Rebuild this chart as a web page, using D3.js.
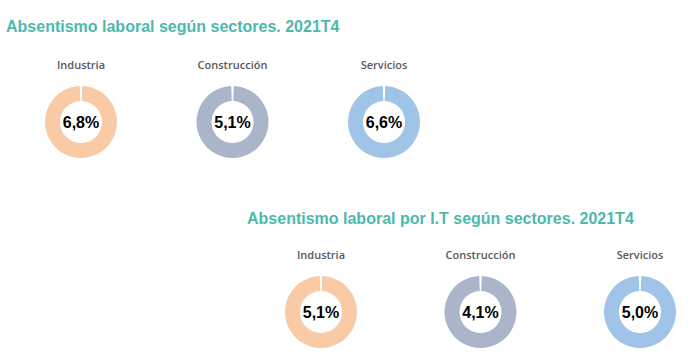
<!DOCTYPE html>
<html>
<head>
<meta charset="utf-8">
<script src="https://cdn.jsdelivr.net/npm/d3@7"></script>
<style>
  body { margin: 0; background: #fff; }
</style>
</head>
<body>
<script>
// data
const sectors = ['Industria', 'Construcción', 'Servicios']
const totalRate = [6.8, 5.1, 6.6]   // absentismo laboral, %
const itRate = [5.1, 4.1, 5.0]      // absentismo por I.T, %
const titles = ['Absentismo laboral según sectores. 2021T4', 'Absentismo laboral por I.T según sectores. 2021T4']

const sectorColors = ['#f8caa6', '#abb5c9', '#9fc4e7']
const titleColor = '#4db8ad'

const width = 700
const height = 353
const outerRadius = 36
const innerRadius = 21
const gap = 0.07   // radians of white gap at the top of each ring

const svg = d3.select('body').append('svg')
    .attr('width', width)
    .attr('height', height)

const colorScale = d3.scaleOrdinal()
    .domain(sectors)
    .range(sectorColors)

const fmt = v => d3.format('.1f')(v).replace('.', ',') + '%'

const pie = d3.pie().sort(null)
    .startAngle(gap / 2)
    .endAngle(2 * Math.PI - gap / 2)
const arc = d3.arc().innerRadius(innerRadius).outerRadius(outerRadius)

const rows = [
    {title: titles[0], values: totalRate, titleX: 6, titleY: 32, labelY: 69, cy: 122, xRange: [81, 384]},
    {title: titles[1], values: itRate, titleX: 247, titleY: 224, labelY: 259, cy: 312, xRange: [321, 640]}
]

rows.forEach(row => {
    const x = d3.scalePoint()
        .domain(sectors)
        .range(row.xRange)

    svg.append('text')
        .attr('x', row.titleX)
        .attr('y', row.titleY)
        .attr('font-family', 'Liberation Sans, Arial, sans-serif')
        .attr('font-weight', 'bold')
        .attr('font-size', '16px')
        .attr('fill', titleColor)
        .text(row.title)

    const g = svg.selectAll(null)
        .data(sectors.map((s, i) => ({sector: s, value: row.values[i]})))
        .enter().append('g')
        .attr('transform', d => `translate(${x(d.sector)}, 0)`)

    g.append('text')
        .attr('y', row.labelY)
        .attr('text-anchor', 'middle')
        .attr('font-family', 'Open Sans, sans-serif')
        .attr('font-weight', 600)
        .attr('font-size', '11px')
        .attr('fill', '#595959')
        .text(d => d.sector)

    const donut = g.append('g')
        .attr('transform', `translate(0, ${row.cy})`)

    donut.selectAll('path')
        .data(d => pie([d.value]).map(p => Object.assign(p, {sector: d.sector})))
        .enter().append('path')
        .attr('d', arc)
        .attr('fill', d => colorScale(d.sector))

    donut.append('text')
        .attr('y', 6)
        .attr('text-anchor', 'middle')
        .attr('font-family', 'Liberation Sans, Arial, sans-serif')
        .attr('font-weight', 'bold')
        .attr('font-size', '16px')
        .attr('fill', '#000')
        .text(d => fmt(d.value))
})
</script>
</body>
</html>
